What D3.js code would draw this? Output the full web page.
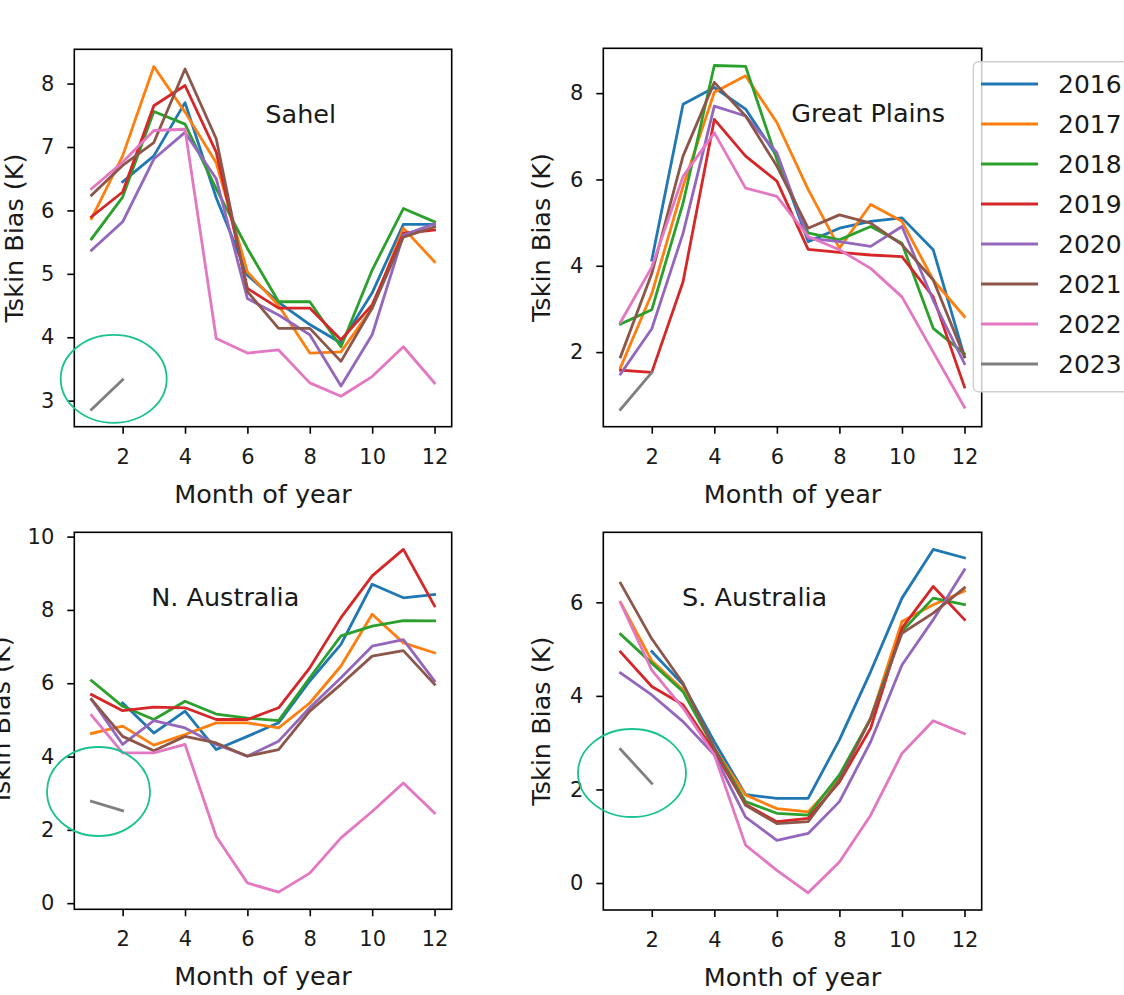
<!DOCTYPE html>
<html>
<head>
<meta charset="utf-8">
<script src="https://cdn.jsdelivr.net/npm/d3@7"></script>
<style>
  html, body { margin: 0; padding: 0; background: #fff; }
  svg { display: block; font-family: "DejaVu Sans", sans-serif; }
</style>
</head>
<body>
<svg id="chart" width="1124" height="995"></svg>
<script>
// ---------------- data ----------------
const months = [1,2,3,4,5,6,7,8,9,10,11,12];
const years = ["2016","2017","2018","2019","2020","2021","2022","2023"];
const colors = ["#1f77b4","#ff7f0e","#2ca02c","#d62728","#9467bd","#8c564b","#e377c2","#7f7f7f"];
const regions = ["Sahel","Great Plains","N. Australia","S. Australia"];
const xTicks = [2,4,6,8,10,12];

// null = no data for that month
const sahel2016 = [null,6.45,6.86,7.70,6.20,4.98,4.55,4.20,3.91,4.70,5.78,5.78];
const sahel2017 = [5.87,6.86,8.27,7.55,6.75,5.03,4.50,3.75,3.77,4.46,5.72,5.19];
const sahel2018 = [5.55,6.21,7.56,7.36,6.34,5.40,4.56,4.56,3.85,5.06,6.03,5.82];
const sahel2019 = [5.90,6.29,7.65,7.97,6.92,4.77,4.46,4.46,3.96,4.51,5.64,5.69];
const sahel2020 = [5.37,5.82,6.81,7.23,6.50,4.61,4.35,4.04,3.23,4.04,5.61,5.79];
const sahel2021 = [6.24,6.71,7.07,8.23,7.13,4.72,4.14,4.14,3.62,4.46,5.58,5.74];
const sahel2022 = [6.34,6.76,7.26,7.28,3.98,3.75,3.80,3.28,3.07,3.38,3.85,3.28];
const sahel2023 = [2.86,3.33,null,null,null,null,null,null,null,null,null,null];

const plains2016 = [null,4.13,7.74,8.13,7.63,6.54,4.56,4.87,5.03,5.11,4.37,1.89];
const plains2017 = [1.64,3.35,5.84,8.02,8.40,7.32,5.77,4.41,5.42,5.03,3.67,2.82];
const plains2018 = [2.65,2.98,5.45,8.64,8.62,6.46,4.76,4.60,4.91,4.52,2.55,1.96];
const plains2019 = [1.58,1.53,3.63,7.39,6.54,5.96,4.38,4.31,4.25,4.21,3.28,1.19];
const plains2020 = [1.49,2.54,4.75,7.70,7.47,6.62,4.64,4.56,4.45,4.91,3.20,1.73];
const plains2021 = [1.89,3.82,6.54,8.25,7.47,6.31,4.87,5.18,4.99,4.49,3.67,1.89];
const plains2022 = [2.69,3.97,6.07,7.08,5.80,5.61,4.68,4.37,3.94,3.28,2.00,0.72];
const plains2023 = [0.67,1.53,null,null,null,null,null,null,null,null,null,null];

const naus2016 = [null,5.46,4.64,5.24,4.19,4.55,4.92,6.06,7.06,8.70,8.33,8.42];
const naus2017 = [4.63,4.83,4.31,4.60,4.92,4.92,4.78,5.46,6.47,7.88,7.10,6.83];
const naus2018 = [6.07,5.37,5.01,5.51,5.16,5.05,4.98,6.15,7.29,7.56,7.71,7.70];
const naus2019 = [5.69,5.25,5.35,5.33,5.01,5.01,5.33,6.42,7.79,8.93,9.65,8.11];
const naus2020 = [5.56,4.33,4.98,4.78,4.33,4.01,4.42,5.33,6.15,7.01,7.19,6.06];
const naus2021 = [5.56,4.55,4.16,4.55,4.37,4.01,4.19,5.24,5.97,6.74,6.89,5.97];
const naus2022 = [5.13,4.10,4.10,4.33,1.82,0.55,0.30,0.82,1.78,2.50,3.28,2.46];
const naus2023 = [2.78,2.52,null,null,null,null,null,null,null,null,null,null];

const saus2016 = [null,4.95,4.24,3.02,1.89,1.81,1.81,3.06,4.52,6.09,7.13,6.95];
const saus2017 = [6.00,4.75,4.13,2.88,1.88,1.59,1.52,2.24,3.52,5.59,5.95,6.24];
const saus2018 = [5.32,4.70,4.09,2.88,1.74,1.49,1.45,2.31,3.52,5.38,6.09,5.95];
const saus2019 = [4.94,4.20,3.81,2.81,1.68,1.31,1.38,2.16,3.31,5.45,6.34,5.63];
const saus2020 = [4.49,4.02,3.45,2.74,1.41,0.91,1.06,1.74,3.02,4.66,5.63,6.70];
const saus2021 = [6.41,5.22,4.27,2.88,1.66,1.27,1.31,2.20,3.52,5.34,5.77,6.31];
const saus2022 = [5.99,4.55,3.74,2.74,0.81,0.27,-0.21,0.45,1.45,2.77,3.47,3.19];
const saus2023 = [2.86,2.13,null,null,null,null,null,null,null,null,null,null];

const seriesByRegion = [
  [sahel2016,sahel2017,sahel2018,sahel2019,sahel2020,sahel2021,sahel2022,sahel2023],
  [plains2016,plains2017,plains2018,plains2019,plains2020,plains2021,plains2022,plains2023],
  [naus2016,naus2017,naus2018,naus2019,naus2020,naus2021,naus2022,naus2023],
  [saus2016,saus2017,saus2018,saus2019,saus2020,saus2021,saus2022,saus2023]
];

// ---------------- layout ----------------
const layout = [
  {x0:74.3, x1:451.7, y0:49.3, y1:426.7, titleFx:0.60, ylabX:14,  ellipse:{cx:113.7, cy:378.8, rx:53, ry:44}},
  {x0:603.3,x1:981.7, y0:48.3, y1:426.7, titleFx:0.70, ylabX:541, ellipse:null},
  {x0:74.3, x1:451.7, y0:532.3,y1:909.3, titleFx:0.40, ylabX:1,   ellipse:{cx:98.5, cy:791.5, rx:51.5, ry:44.5}},
  {x0:603.3,x1:981.7, y0:532.3,y1:910,   titleFx:0.40, ylabX:541, ellipse:{cx:632, cy:773, rx:54, ry:44}}
];

const svg = d3.select("#chart");
const tickFont = 21, labelFont = 25.5, titleFont = 25.5, legendFont = 25;
const textColor = "#1a1a1a";

regions.forEach((name, ri) => {
  const L = layout[ri];
  const series = seriesByRegion[ri];
  const all = series.flat().filter(v => v !== null);
  const lo = d3.min(all), hi = d3.max(all), pad = (hi - lo) * 0.05;
  const x = d3.scaleLinear().domain([0.45, 12.55]).range([L.x0, L.x1]);
  const y = d3.scaleLinear().domain([lo - pad, hi + pad]).range([L.y1, L.y0]);
  const g = svg.append("g");

  // lines
  const line = d3.line()
    .defined(d => d[1] !== null)
    .x(d => x(d[0])).y(d => y(d[1]));
  series.forEach((vals, si) => {
    g.append("path")
      .datum(months.map((m, i) => [m, vals[i]]))
      .attr("d", line)
      .attr("fill", "none")
      .attr("stroke", colors[si])
      .attr("stroke-width", 2.8)
      .attr("stroke-linejoin", "round")
      .attr("stroke-linecap", "square");
  });

  // frame
  g.append("rect")
    .attr("x", L.x0).attr("y", L.y0)
    .attr("width", L.x1 - L.x0).attr("height", L.y1 - L.y0)
    .attr("fill", "none").attr("stroke", "#000").attr("stroke-width", 1.6);

  // x axis
  const xAxis = d3.axisBottom(x).tickValues(xTicks).tickSize(7).tickPadding(15).tickFormat(d3.format("d"));
  const xa = g.append("g").attr("transform", `translate(0,${L.y1})`).call(xAxis);
  xa.select(".domain").remove();
  xa.selectAll("line").attr("stroke", "#000").attr("stroke-width", 1.6);
  xa.selectAll("text").attr("font-size", tickFont).attr("fill", textColor)
    .attr("font-family", "DejaVu Sans");

  // y axis
  const yt = d3.ticks(lo - pad, hi + pad, 6).filter(v => Number.isInteger(v));
  const [d0, d1] = y.domain();
  const yTicks = (ri === 1 || ri === 2 || ri === 3) ? yt.filter(v => v % 2 === 0) : yt;
  const yAxis = d3.axisLeft(y).tickValues(yTicks.filter(v => v >= d0 && v <= d1)).tickSize(7).tickPadding(13).tickFormat(d3.format("d"));
  const ya = g.append("g").attr("transform", `translate(${L.x0},0)`).call(yAxis);
  ya.select(".domain").remove();
  ya.selectAll("line").attr("stroke", "#000").attr("stroke-width", 1.6);
  ya.selectAll("text").attr("font-size", tickFont).attr("fill", textColor)
    .attr("font-family", "DejaVu Sans");

  // title inside axes
  g.append("text")
    .attr("x", L.x0 + (L.x1 - L.x0) * L.titleFx)
    .attr("y", L.y0 + 73.5)
    .attr("text-anchor", "middle")
    .attr("font-size", titleFont).attr("fill", textColor)
    .text(name);

  // axis labels
  g.append("text")
    .attr("x", (L.x0 + L.x1) / 2)
    .attr("y", L.y1 + 76)
    .attr("text-anchor", "middle")
    .attr("font-size", labelFont).attr("fill", textColor)
    .text("Month of year");
  g.append("text")
    .attr("transform", `translate(${L.ylabX},${(L.y0 + L.y1) / 2}) rotate(-90)`)
    .attr("text-anchor", "middle")
    .attr("dominant-baseline", "central")
    .attr("font-size", labelFont).attr("fill", textColor)
    .text("Tskin Bias (K)");

  // highlight ellipse
  if (L.ellipse) {
    svg.append("ellipse")
      .attr("cx", L.ellipse.cx).attr("cy", L.ellipse.cy)
      .attr("rx", L.ellipse.rx).attr("ry", L.ellipse.ry)
      .attr("fill", "none").attr("stroke", "#19c290").attr("stroke-width", 1.8);
  }
});

// legend
const lg = svg.append("g");
lg.append("rect")
  .attr("x", 973.3).attr("y", 61.7).attr("width", 200).attr("height", 330)
  .attr("rx", 5).attr("fill", "#fff").attr("fill-opacity", 0.8)
  .attr("stroke", "#d0d0d0").attr("stroke-width", 1.4);
years.forEach((yr, i) => {
  const yy = 84 + i * 40.0;
  lg.append("line").attr("x1", 981).attr("x2", 1038).attr("y1", yy).attr("y2", yy)
    .attr("stroke", colors[i]).attr("stroke-width", 2.8);
  lg.append("text").attr("x", 1058).attr("y", yy).attr("dominant-baseline", "central")
    .attr("font-size", legendFont).attr("fill", textColor).text(yr);
});
</script>
</body>
</html>
